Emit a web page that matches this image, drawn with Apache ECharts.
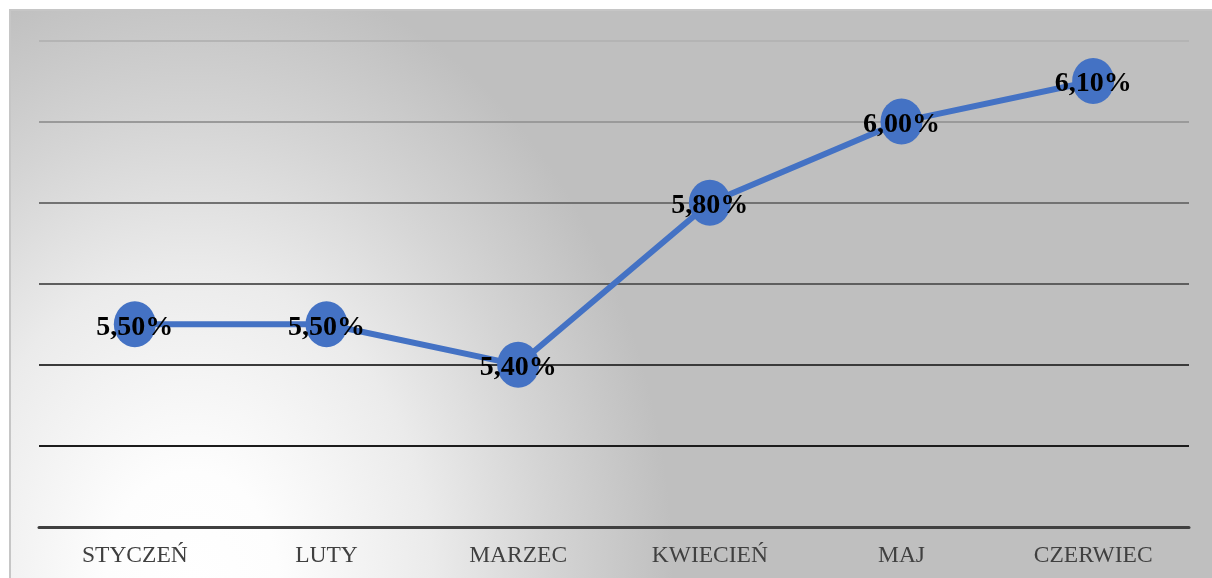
<!DOCTYPE html>
<html>
<head>
<meta charset="utf-8">
<script src="https://cdn.jsdelivr.net/npm/echarts@6/dist/echarts.min.js"></script>
<style>
  html, body { margin: 0; padding: 0; background: #ffffff; }
  #lineChart { width: 1212px; height: 578px; }
</style>
</head>
<body>
<div id="lineChart"></div>
<script>
// months on the x axis
var months = ["STYCZEŃ", "LUTY", "MARZEC", "KWIECIEŃ", "MAJ", "CZERWIEC"];
// rate in percent
var rates = [5.5, 5.5, 5.4, 5.8, 6.0, 6.1];
// value axis range (labels are hidden)
var yMin = 5.0;
var yMax = 6.2;
var yStep = 0.2;

var chart = echarts.init(document.getElementById("lineChart"));

// background is a stretched radial gradient, lightest near bottom-left
var bgScaleY = 1.3;

var options = {
  animation: false,
  graphic: [
    {
      type: "rect",
      z: -10,
      silent: true,
      x: 10,
      y: 10,
      scaleY: bgScaleY,
      shape: { x: 0, y: 0, width: 1210, height: 580 / bgScaleY },
      style: {
        fill: new echarts.graphic.RadialGradient(0.15, 0.99, 1.08, [
          { offset: 0, color: "#ffffff" },
          { offset: 0.18, color: "#fdfdfd" },
          { offset: 0.5, color: "#ebebeb" },
          { offset: 0.75, color: "#d4d4d4" },
          { offset: 1, color: "#bfbfbf" },
        ]),
      },
    },
    {
      type: "rect",
      z: -9,
      silent: true,
      shape: { x: 10, y: 10, width: 1210, height: 580 },
      style: { fill: null, stroke: "#c6c6c6", lineWidth: 2 },
    },
  ],
  grid: {
    left: 39,
    right: 23,
    top: 40.5,
    bottom: 51,
  },
  xAxis: {
    type: "category",
    boundaryGap: true,
    data: months,
    axisLine: {
      show: true,
      lineStyle: { color: "#404040", width: 3 },
    },
    axisTick: { show: false },
    axisLabel: {
      color: "#404040",
      fontFamily: "Liberation Serif",
      fontSize: 23.5,
      margin: 17,
    },
  },
  yAxis: {
    type: "value",
    min: yMin,
    max: yMax,
    interval: yStep,
    axisLine: { show: false },
    axisTick: { show: false },
    axisLabel: { show: false },
    splitLine: {
      show: true,
      lineStyle: {
        width: 2,
        color: ["#404040", "#1c1c1c", "#3a3a3a", "#5e5e5e", "#727272", "#9a9a9a", "#b4b4b4"],
      },
    },
  },
  series: [
    {
      type: "line",
      data: rates,
      symbol: "circle",
      symbolSize: [42, 46],
      itemStyle: { color: "#4472C4" },
      lineStyle: { color: "#4472C4", width: 6 },
      label: {
        show: true,
        position: "inside",
        offset: [0, 3],
        color: "#000000",
        fontFamily: "Liberation Serif",
        fontWeight: "bold",
        fontSize: 28,
        formatter: function (p) {
          return p.value.toFixed(2).replace(".", ",") + "%";
        },
      },
    },
  ],
};

chart.setOption(options, true);
</script>
</body>
</html>
